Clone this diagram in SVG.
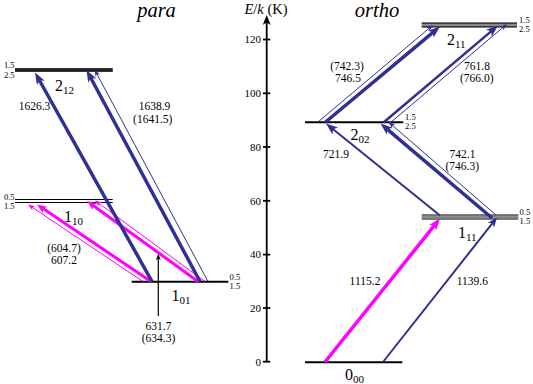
<svg xmlns="http://www.w3.org/2000/svg" width="533" height="384" viewBox="0 0 533 384" font-family="'Liberation Serif', 'Times New Roman', serif">
<style>
text{font-family:"Liberation Serif","Times New Roman",serif;fill:#000}
.t{font-size:11.5px;text-anchor:middle}
.s{font-size:8.5px}
.se{font-size:8.5px;text-anchor:end}
.lv{font-size:16px}
.sub{font-size:11px}
.hd{font-size:20.5px;font-style:italic;text-anchor:middle}
.ax{font-size:11px;text-anchor:end}
.lvl{stroke:#000;stroke-width:2;fill:none}
.dl{stroke:#000;stroke-width:1.2;fill:none}
.gr{stroke:#8a8a8a;stroke-width:2.4;fill:none}
.gd{stroke:#404040;stroke-width:2.4;fill:none}
.b{stroke:#2f3192;fill:none}
.m{stroke:#ff00ff;fill:none}
.k{stroke:#000;fill:none}
</style>
<defs>
<marker id="bL" markerUnits="userSpaceOnUse" markerWidth="12" markerHeight="9" refX="6" refY="4.5" orient="auto"><path d="M0,0 L12,4.5 L0,9 L3,4.5 z" fill="#2f3192"/></marker>
<marker id="bM" markerUnits="userSpaceOnUse" markerWidth="10" markerHeight="8" refX="5" refY="4" orient="auto"><path d="M0,0 L10,4 L0,8 L3,4 z" fill="#2f3192"/></marker>
<marker id="bS" markerUnits="userSpaceOnUse" markerWidth="7" markerHeight="5" refX="4.5" refY="2.5" orient="auto"><path d="M0,0 L7,2.5 L0,5 L2,2.5 z" fill="#2f3192"/></marker>
<marker id="mL" markerUnits="userSpaceOnUse" markerWidth="12" markerHeight="9" refX="6" refY="4.5" orient="auto"><path d="M0,0 L12,4.5 L0,9 L3,4.5 z" fill="#ff00ff"/></marker>
<marker id="mM" markerUnits="userSpaceOnUse" markerWidth="10" markerHeight="8" refX="5" refY="4" orient="auto"><path d="M0,0 L10,4 L0,8 L3,4 z" fill="#ff00ff"/></marker>
<marker id="mS" markerUnits="userSpaceOnUse" markerWidth="7" markerHeight="5" refX="4.5" refY="2.5" orient="auto"><path d="M0,0 L7,2.5 L0,5 L2,2.5 z" fill="#ff00ff"/></marker>
<marker id="kS" markerUnits="userSpaceOnUse" markerWidth="6" markerHeight="5" refX="2" refY="2.5" orient="auto"><path d="M0,0 L6,2.5 L0,5 L1.5,2.5 z" fill="#000"/></marker>
<marker id="kL" markerUnits="userSpaceOnUse" markerWidth="10" markerHeight="8" refX="3" refY="4" orient="auto"><path d="M0,0 L10,4 L0,8 L2.5,4 z" fill="#000"/></marker>
</defs>

<g id="axis">
<line class="k" x1="266.7" y1="362" x2="266.7" y2="22" stroke-width="1.8" marker-end="url(#kL)"/>
<g class="k" stroke-width="1.8">
<line x1="263" y1="361.7" x2="270.3" y2="361.7"/>
<line x1="263" y1="308" x2="270.3" y2="308"/>
<line x1="263" y1="254.6" x2="270.3" y2="254.6"/>
<line x1="263" y1="200.8" x2="270.3" y2="200.8"/>
<line x1="263" y1="147" x2="270.3" y2="147"/>
<line x1="263" y1="93.3" x2="270.3" y2="93.3"/>
<line x1="263" y1="39.5" x2="270.3" y2="39.5"/>
</g>
<text class="ax" x="261" y="365.5">0</text>
<text class="ax" x="261" y="311.8">20</text>
<text class="ax" x="261" y="258.4">40</text>
<text class="ax" x="261" y="204.6">60</text>
<text class="ax" x="261" y="150.8">80</text>
<text class="ax" x="261" y="97.1">100</text>
<text class="ax" x="261" y="43.3">120</text>
<text x="266" y="13.5" font-size="14.5" text-anchor="middle"><tspan font-style="italic">E</tspan>/<tspan font-style="italic">k</tspan> (K)</text>
</g>

<text class="hd" x="156.5" y="17">para</text>
<text class="hd" x="377" y="17">ortho</text>

<g id="para-2_12">
<line class="gd" x1="15" y1="70" x2="112.7" y2="70"/>
<line class="dl" x1="15" y1="68.8" x2="112.7" y2="68.8"/>
<line class="dl" x1="15" y1="71.2" x2="112.7" y2="71.2"/>
<text class="se" x="14.5" y="68">1.5</text>
<text class="se" x="14.5" y="77.5">2.5</text>
<text class="lv" x="55" y="91">2<tspan class="sub" dy="3">12</tspan></text>
</g>

<g id="para-1_10">
<line class="dl" x1="15" y1="199.5" x2="112.7" y2="199.5"/>
<line class="dl" x1="15" y1="202.5" x2="112.7" y2="202.5"/>
<text class="se" x="14.5" y="199.5">0.5</text>
<text class="se" x="14.5" y="209">1.5</text>
<text class="lv" x="64" y="222">1<tspan class="sub" dy="3">10</tspan></text>
</g>

<g id="para-1_01">
<line class="lvl" x1="131.7" y1="281.7" x2="228.3" y2="281.7"/>
<text class="s" x="229.5" y="279.5">0.5</text>
<text class="s" x="229.5" y="289">1.5</text>
<text class="lv" x="171.5" y="301">1<tspan class="sub" dy="3">01</tspan></text>
</g>

<g id="ortho-2_11">
<line class="gr" x1="421.7" y1="25" x2="517" y2="25"/>
<line class="dl" x1="421.7" y1="23.2" x2="517" y2="23.2"/>
<line class="dl" x1="421.7" y1="26.8" x2="517" y2="26.8"/>
<text class="s" x="519" y="22.5">1.5</text>
<text class="s" x="519" y="32">2.5</text>
<text class="lv" x="447" y="44.5">2<tspan class="sub" dy="3">11</tspan></text>
</g>

<g id="ortho-2_02">
<line class="lvl" x1="305" y1="122.3" x2="403.3" y2="122.3"/>
<text class="s" x="405" y="119.5">1.5</text>
<text class="s" x="405" y="129">2.5</text>
<text class="lv" x="350.5" y="140">2<tspan class="sub" dy="3">02</tspan></text>
</g>

<g id="ortho-1_11">
<line class="gr" x1="421.7" y1="217" x2="518.3" y2="217"/>
<line class="dl" x1="421.7" y1="215" x2="518.3" y2="215"/>
<line class="dl" x1="421.7" y1="219" x2="518.3" y2="219"/>
<text class="s" x="519.5" y="214.5">0.5</text>
<text class="s" x="519.5" y="224">1.5</text>
<text class="lv" x="458" y="238">1<tspan class="sub" dy="3">11</tspan></text>
</g>

<g id="ortho-0_00">
<line class="lvl" x1="305" y1="362.3" x2="402.3" y2="362.3"/>
<text class="lv" x="345" y="380">0<tspan class="sub" dy="3">00</tspan></text>
</g>

<g id="connectors">
<line class="m" stroke-width="1" x1="143" y1="281.5" x2="30.08" y2="205.89" marker-end="url(#mS)"/>
<line class="m" stroke-width="3" x1="151" y1="281.5" x2="41.14" y2="207.3" marker-end="url(#mM)"/>
<line class="m" stroke-width="3" x1="198" y1="281.5" x2="91.05" y2="203.94" marker-end="url(#mM)"/>
<line class="m" stroke-width="1" x1="205" y1="281.5" x2="97.01" y2="201.98" marker-end="url(#mS)"/>
<line class="b" stroke-width="3.5" x1="152" y1="281.5" x2="37.93" y2="77.74" marker-end="url(#bL)"/>
<line class="b" stroke-width="3.5" x1="200" y1="281.5" x2="89.34" y2="75.29" marker-end="url(#bL)"/>
<line class="b" stroke-width="1" x1="208" y1="281.5" x2="95.68" y2="71.7" marker-end="url(#bS)"/>
<line class="k" stroke-width="1.2" x1="158.3" y1="316" x2="158.3" y2="258" marker-end="url(#kS)"/>
<line class="m" stroke-width="3.5" x1="325" y1="362" x2="436.25" y2="223.18" marker-end="url(#mL)"/>
<line class="b" stroke-width="2" x1="383" y1="362" x2="493.9" y2="221.43" marker-end="url(#bM)"/>
<line class="b" stroke-width="2" x1="440" y1="215.5" x2="330.67" y2="127.27" marker-end="url(#bL)"/>
<line class="b" stroke-width="3.5" x1="492" y1="218" x2="385.08" y2="127.38" marker-end="url(#bL)"/>
<line class="b" stroke-width="1" x1="496.5" y1="215.5" x2="390.39" y2="123.64" marker-end="url(#bS)"/>
<line class="b" stroke-width="3.5" x1="325" y1="122.5" x2="435.39" y2="30.35" marker-end="url(#bL)"/>
<line class="b" stroke-width="1" x1="318" y1="122" x2="431.09" y2="26.61" marker-end="url(#bS)"/>
<line class="b" stroke-width="2.5" x1="383.5" y1="122.5" x2="493.42" y2="29.38" marker-end="url(#bL)"/>
<line class="b" stroke-width="1" x1="390" y1="123" x2="505.09" y2="25.61" marker-end="url(#bS)"/>
</g>

<g id="labels">
<text class="t" x="34.5" y="110">1626.3</text>
<text class="t" x="154.5" y="110">1638.9</text>
<text class="t" x="152.7" y="123">(1641.5)</text>
<text class="t" x="64" y="251.5">(604.7)</text>
<text class="t" x="64" y="264">607.2</text>
<text class="t" x="158.5" y="330">631.7</text>
<text class="t" x="158.5" y="342">(634.3)</text>
<text class="t" x="347" y="69.5">(742.3)</text>
<text class="t" x="348" y="81.5">746.5</text>
<text class="t" x="477" y="70">761.8</text>
<text class="t" x="476.7" y="81.5">(766.0)</text>
<text class="t" x="336" y="158">721.9</text>
<text class="t" x="462.5" y="157.5">742.1</text>
<text class="t" x="462.3" y="170">(746.3)</text>
<text class="t" x="365" y="284.5">1115.2</text>
<text class="t" x="472.3" y="285">1139.6</text>
</g>
</svg>
